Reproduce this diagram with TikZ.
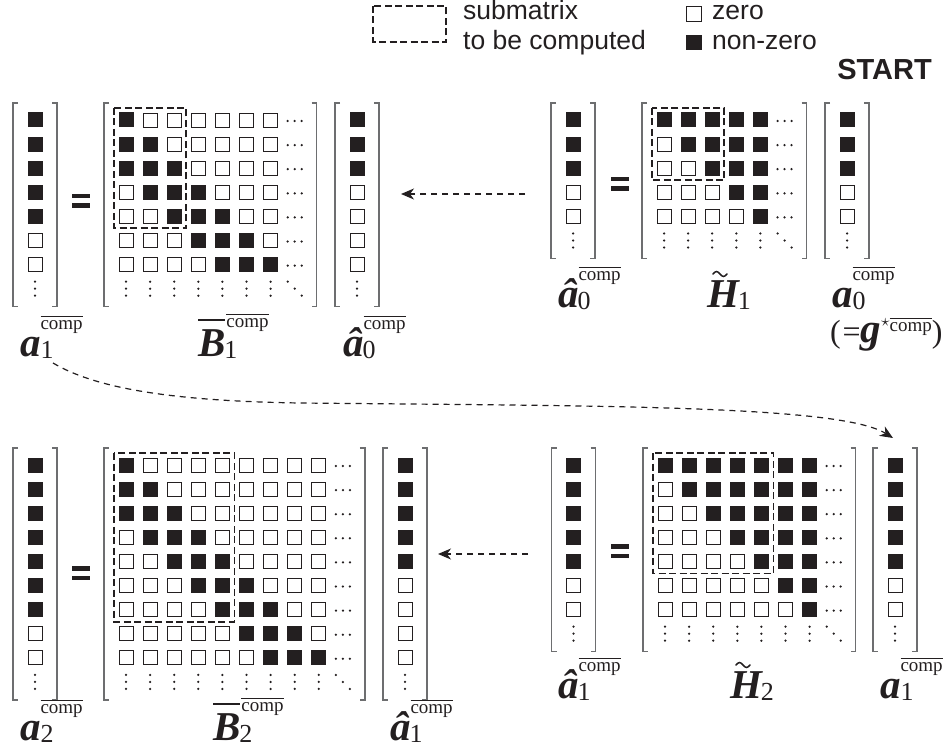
\documentclass[tikz,border=0pt]{standalone}
\usepackage{fontspec}
\setmainfont{Liberation Serif}
\newfontfamily\legendfont{Liberation Sans}
\usetikzlibrary{arrows.meta}

\definecolor{ink}{HTML}{231F20}
\definecolor{rimc}{HTML}{6D6E70}

\newcommand\pitch{24.1}

% text with a rule over it: #1 gap, #2 rule thickness, #3 text
\newsavebox\ovlbox
\newcommand\ovl[3]{\sbox\ovlbox{#3}\rlap{\rule[\dimexpr\ht\ovlbox+#1\relax]{\wd\ovlbox}{#2}}\usebox\ovlbox}

\newcommand\sym{\fontsize{41}{41}\selectfont\bfseries\itshape}
\newcommand\lo[1]{{\fontsize{26}{26}\selectfont #1}}
\newcommand\cmp{{\fontsize{19}{19}\selectfont\ovl{3pt}{1pt}{comp}}}
% symbol with subscript and overlined "comp" superscript:
% #1 letter, #2 kern before subscript, #3 subscript, #4 raise of superscript, #5 extra shift of superscript
\newcommand\labl[5]{{\sym #1}\kern#2\rlap{\raisebox{-2pt}{\lo{#3}}}\kern#5\raisebox{#4}{\cmp}}

\tikzset{
  zer/.style={draw=ink, line width=0.9pt, fill=white},
  rim/.style={draw=rimc, line width=1.3pt},
  block/.style={draw=ink, line width=1.8pt, dash pattern=on 7pt off 3.5pt},
  flow/.style={draw=ink, line width=1.2pt, dash pattern=on 6pt off 5pt,
    -{Stealth[length=13pt,width=11pt,inset=4pt]}},
  tilde mark/.style={draw=ink, line width=1.5pt, line cap=round},
  lab/.style={anchor=base west, inner sep=0pt, outer sep=0pt, text=ink},
  legend text/.style={anchor=base west, inner sep=0pt, font=\legendfont\fontsize{26.5}{26.5}\selectfont, text=ink}
}

% one entry: centre x, centre y, 1 = non-zero
\newcommand\cell[3]{%
  \ifnum#3=1\relax\fill[ink] ({#1-7.5},{#2-7.5}) rectangle ({#1+7.5},{#2+7.5});%
  \else\draw[zer] ({#1-7},{#2-7}) rectangle ({#1+7},{#2+7});\fi}
\newcommand\vdt[2]{\foreach \k in {-7,0,7}{\fill[ink] ({#1},{#2+\k}) circle (1.25pt);}}
\newcommand\hdt[2]{\foreach \k in {-7,0,7}{\fill[ink] ({#1+\k},{#2+1}) circle (1.25pt);}}
\newcommand\ddt[2]{\foreach \k in {-7,0,7}{\fill[ink] ({#1+\k},{#2+\k}) circle (1.25pt);}}
% square brackets: left x, right x, top y, bottom y
\newcommand\brackets[4]{%
  \draw[rim] ({#1+5},{#3}) -- ({#1},{#3}) -- ({#1},{#4}) -- ({#1+5},{#4});
  \draw[rim] ({#2-5},{#3}) -- ({#2},{#3}) -- ({#2},{#4}) -- ({#2-5},{#4});}
% column vector: centre x, first row y, non-zero entries, shown entries
\newcommand\colvec[4]{%
  \foreach \ri in {1,...,#4}{%
    \pgfmathtruncatemacro\cellkind{\ri<=#3}%
    \cell{#1}{#2+(\ri-1)*\pitch}{\cellkind}}%
  \vdt{#1}{#2+#4*\pitch}%
  \brackets{#1-22}{#1+22}{#2-17}{#2+#4*\pitch+18}}
% square matrix: first column x, first row y, shown size, non-zero test
\newcommand\sparsemat[4]{%
  \foreach \ri in {1,...,#3}{%
    \foreach \ci in {1,...,#3}{%
      \pgfmathtruncatemacro\cellkind{#4}%
      \cell{#1+(\ci-1)*\pitch}{#2+(\ri-1)*\pitch}{\cellkind}}%
    \hdt{#1+#3*\pitch}{#2+(\ri-1)*\pitch}}%
  \foreach \ci in {1,...,#3}{\vdt{#1+(\ci-1)*\pitch}{#2+#3*\pitch}}%
  \ddt{#1+#3*\pitch}{#2+#3*\pitch}%
  \brackets{#1-22}{#1+#3*\pitch+22}{#2-17}{#2+#3*\pitch+18}}
% dashed block: first column x, first row y, columns, rows
\newcommand\subblock[4]{\draw[block] ({#1-12},{#2-12}) rectangle ({#1+#3*\pitch-\pitch+12},{#2+#4*\pitch-\pitch+12});}
% bold equals sign centred at x, y
\newcommand\eqsign[2]{\fill[ink] ({#1-9},{#2-7}) rectangle ({#1+9},{#2-2.5}); \fill[ink] ({#1-9},{#2+2.5}) rectangle ({#1+9},{#2+7});}
% tilde accent starting at x, centred on y
\newcommand\tildeat[2]{\draw[tilde mark] ({#1},{#2}) sin ({#1+3.5},{#2-2.5}) cos ({#1+7},{#2}) sin ({#1+10.5},{#2+2.5}) cos ({#1+14},{#2});}

\begin{document}
\begin{tikzpicture}[x=1pt,y=-1pt]
\useasboundingbox (0,0) rectangle (946,749);

% legend
\draw[block] (373,6) rectangle (446,42);
\node[legend text] (lgsub) at (463,20) {submatrix};
\node[legend text] (lgcomp) at (463,50) {to be computed};
\draw[zer] (686.5,6.5) rectangle (701.5,21);
\fill[ink] (686,35) rectangle (702,50);
\node[legend text] (lgzero) at (712,20) {zero};
\node[legend text] (lgnz) at (712,50) {non-zero};
\node[anchor=base east, inner sep=0pt, text=ink, font=\legendfont\bfseries\fontsize{29}{29}\selectfont] (start) at (932,80) {START};

% first step, right: H1 applied to a0
\colvec{573}{120}{3}{5}
\eqsign{619.5}{184}
\sparsemat{664}{120}{5}{\ri<=\ci}
\subblock{664}{120}{3}{3}
\colvec{847}{120}{3}{5}
\node[lab] (rh0) at (558,307) {\labl{â}{-1pt}{0}{27pt}{1pt}};
\node[lab] (rH1) at (707,307) {{\sym H}\kern-1pt\raisebox{-2pt}{\lo{1}}};
\tildeat{713}{274}
\node[lab] (ra0) at (832,307) {\labl{a}{0pt}{0}{27pt}{0pt}};
\node[lab] (rg) at (830,342) {{\fontsize{32}{32}\selectfont(\kern2pt=}{\sym g}\raisebox{16pt}{\fontsize{16}{16}\selectfont$\star$}\raisebox{11pt}{\cmp}{\fontsize{32}{32}\selectfont)}};

% first step, left: B1 applied to hat a0
\colvec{35}{120}{5}{7}
\eqsign{81}{201}
\sparsemat{126}{120}{7}{(\ri>=\ci)&&(\ri-\ci<=2)}
\subblock{126}{120}{3}{5}
\colvec{357}{120}{3}{7}
\node[lab] (la1) at (20,356) {\labl{a}{0pt}{1}{27pt}{0pt}};
\node[lab] (lB1) at (198,356) {\labl{\ovl{8.5pt}{1.5pt}{B}}{-1pt}{1}{29pt}{2pt}};
\node[lab] (lh0) at (343,356) {\labl{â}{-1pt}{0}{27pt}{1pt}};

% second step, right: H2 applied to a1
\colvec{573.5}{465}{5}{7}
\eqsign{620}{551}
\sparsemat{665}{465}{7}{\ri<=\ci}
\subblock{665}{465}{5}{5}
\colvec{895}{465}{5}{7}
\node[lab] (rh1) at (558,698) {\labl{â}{-1pt}{1}{27pt}{1pt}};
\node[lab] (rH2) at (730,698) {{\sym H}\kern-1pt\raisebox{-2pt}{\lo{2}}};
\tildeat{736}{665}
\node[lab] (ra1) at (880,698) {\labl{a}{0pt}{1}{27pt}{0pt}};

% second step, left: B2 applied to hat a1
\colvec{35}{465}{7}{9}
\eqsign{81}{573}
\sparsemat{126}{465}{9}{(\ri>=\ci)&&(\ri-\ci<=2)}
\subblock{126}{465}{5}{7}
\colvec{405}{465}{5}{9}
\node[lab] (la2) at (20,740) {\labl{a}{0pt}{2}{27pt}{0pt}};
\node[lab] (lB2) at (213,740) {\labl{\ovl{8.5pt}{1.5pt}{B}}{-1pt}{2}{29pt}{2pt}};
\node[lab] (lh1) at (390,740) {\labl{â}{-1pt}{1}{27pt}{1pt}};

% flow between the steps
\coordinate (f1) at (525,194);
\coordinate (t1) at (401,194);
\draw[flow] (f1) -- (t1);
\coordinate (f2) at (528,554);
\coordinate (t2) at (438,554);
\draw[flow] (f2) -- (t2);
\coordinate (c0) at (53,363);
\coordinate (cm) at (300,403);
\coordinate (c3) at (893,438);
\draw[flow] (c0) .. controls (95,388) and (170,401) .. (cm)
  .. controls (600,406) and (840,405) .. (c3);
\end{tikzpicture}
\end{document}
